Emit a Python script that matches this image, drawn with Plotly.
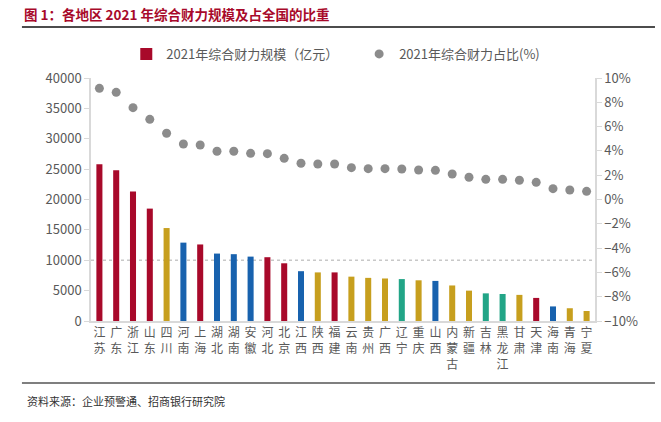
import plotly.graph_objects as go

provinces = ["江苏", "广东", "浙江", "山东", "四川", "河南", "上海", "湖北", "湖南", "安徽",
             "河北", "北京", "江西", "陕西", "福建", "云南", "贵州", "广西", "辽宁", "重庆",
             "山西", "内蒙古", "新疆", "吉林", "黑龙江", "甘肃", "天津", "海南", "青海", "宁夏"]
scale_values = [25800, 24800, 21300, 18500, 15300, 12900, 12600, 11100, 11000, 10600,
                10500, 9500, 8200, 8000, 8000, 7300, 7100, 7000, 6900, 6700,
                6600, 5850, 5000, 4550, 4450, 4300, 3800, 2400, 2100, 1650]
share_values = [9.15, 8.82, 7.56, 6.60, 5.45, 4.57, 4.49, 3.97, 3.97, 3.80,
                3.77, 3.39, 2.98, 2.92, 2.92, 2.62, 2.54, 2.54, 2.51, 2.43,
                2.40, 2.10, 1.83, 1.66, 1.66, 1.58, 1.41, 0.89, 0.78, 0.67]
regions = ["东部", "东部", "东部", "东部", "西部", "中部", "东部", "中部", "中部", "中部",
           "东部", "东部", "中部", "西部", "东部", "西部", "西部", "西部", "东北", "西部",
           "中部", "西部", "西部", "东北", "东北", "西部", "东部", "中部", "西部", "西部"]
region_colors = {"东部": "#A8092A", "西部": "#C79F1E", "中部": "#1862AE", "东北": "#22A587"}

tick_labels = ["<br>".join(list(p)) for p in provinces]
bar_colors = [region_colors[r] for r in regions]

FONT = "Noto Sans CJK SC"
GRAY = "#595959"

fig = go.Figure()
fig.add_trace(go.Bar(
    x=provinces, y=scale_values, name="2021年综合财力规模（亿元）",
    marker=dict(color=bar_colors, line=dict(width=0)), width=0.36,
    legend="legend",
))
fig.add_trace(go.Scatter(
    x=provinces, y=share_values, name="2021年综合财力占比(%)", mode="markers",
    marker=dict(color="#8C8C8C", size=9), yaxis="y2", legend="legend2",
))

fig.update_layout(
    width=661, height=422,
    margin=dict(l=91, r=66, t=78, b=101, autoexpand=False),
    paper_bgcolor="white", plot_bgcolor="white",
    font=dict(family=FONT, color=GRAY, size=13),
    showlegend=True,
    bargap=0.6,
    xaxis=dict(
        tickmode="array", tickvals=provinces, ticktext=tick_labels,
        showline=True, linecolor="#D9D9D9", linewidth=2, ticks="",
        tickfont=dict(size=12, color=GRAY), showgrid=False,
        range=[-0.5, len(provinces) - 0.5], automargin=False,
    ),
    yaxis=dict(
        range=[0, 40000], dtick=5000, tickformat="d", showgrid=False, zeroline=False,
        showline=True, linecolor="#D9D9D9", linewidth=1.5,
        ticks="outside", ticklen=5, tickcolor="#D9D9D9",
        tickfont=dict(size=13, color=GRAY), automargin=False,
    ),
    yaxis2=dict(
        range=[-10, 10], dtick=2, overlaying="y", side="right",
        showgrid=False, zeroline=False,
        showline=True, linecolor="#D9D9D9", linewidth=1.5,
        ticks="outside", ticklen=5, tickcolor="#D9D9D9",
        ticksuffix="%", tickfont=dict(size=13, color=GRAY), automargin=False,
    ),
    legend=dict(x=0.07, y=1.099, xanchor="left", yanchor="middle",
                orientation="h", bgcolor="rgba(0,0,0,0)",
                font=dict(size=13, color=GRAY), itemwidth=30),
    legend2=dict(x=0.532, y=1.099, xanchor="left", yanchor="middle",
                 orientation="h", bgcolor="rgba(0,0,0,0)",
                 font=dict(size=13, color=GRAY), itemwidth=30),
)

# dotted reference line at 10000
fig.add_shape(type="line", xref="paper", yref="y", x0=0, x1=1, y0=10000, y1=10000,
              line=dict(color="#C8C8C8", width=1.5, dash="dot"), layer="below")

# title and rules
fig.add_annotation(text="<b>图 1：各地区 2021 年综合财力规模及占全国的比重</b>",
                   xref="paper", yref="paper", x=-0.137, y=1.263,
                   xanchor="left", yanchor="middle", showarrow=False,
                   font=dict(family=FONT, size=13.5, color="#A8092A"))
fig.add_shape(type="line", xref="paper", yref="paper", x0=-0.137, x1=1.119,
              y0=1.21, y1=1.21, line=dict(color="#111111", width=1.5))
fig.add_shape(type="line", xref="paper", yref="paper", x0=-0.137, x1=1.119,
              y0=-0.255, y1=-0.255, line=dict(color="#555555", width=1.5))
fig.add_annotation(text="资料来源：企业预警通、招商银行研究院",
                   xref="paper", yref="paper", x=-0.131, y=-0.33,
                   xanchor="left", yanchor="middle", showarrow=False,
                   font=dict(family=FONT, size=11, color="#333333"))

fig.write_html("out.html", config={"displayModeBar": False},
               post_script="document.body.style.margin='0';")
